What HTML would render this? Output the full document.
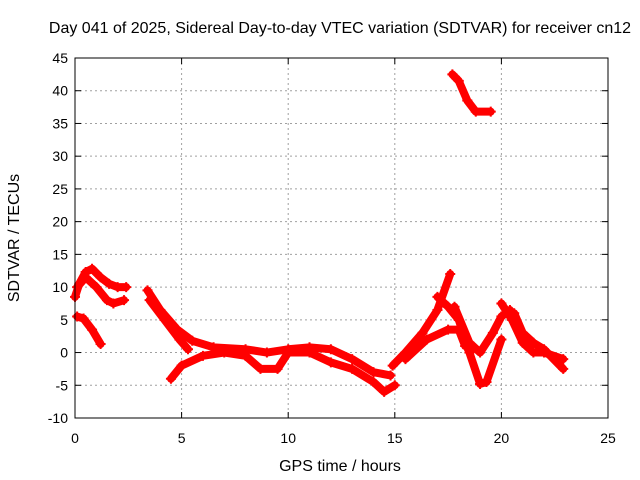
<!DOCTYPE html>
<html><head><meta charset="utf-8"><style>
body{margin:0;background:#fff;}
svg{display:block;font-family:"Liberation Sans",sans-serif;font-size:14px;}
</style></head><body>
<svg id="chart" width="640" height="480" viewBox="0 0 640 480">
<rect width="640" height="480" fill="#fff"/>
<text x="340" y="33" text-anchor="middle" font-size="16">Day 041 of 2025, Sidereal Day-to-day VTEC variation (SDTVAR) for receiver cn12</text>
<text x="340" y="471" text-anchor="middle" font-size="16">GPS time / hours</text>
<text transform="translate(19,238) rotate(-90)" text-anchor="middle" font-size="16">SDTVAR / TECUs</text>
<g id="grid"></g>
<g id="ticks"></g>
<g id="marks"></g>
<rect x="75" y="58" width="533" height="360" fill="none" stroke="#000" stroke-width="1"/>
</svg>
<script>
const xTicks=[0,5,10,15,20,25];
const yTicks=[-10,-5,0,5,10,15,20,25,30,35,40,45];
const trackA=[[0,8.5],[0.2,10.5],[0.5,12.3],[0.8,12.8],[1.2,11.5],[1.6,10.5],[2,10],[2.4,10]];
const trackA2=[[0.1,10],[0.5,11.5],[1,10],[1.5,8],[1.8,7.5],[2.3,8]];
const trackB=[[0.1,5.5],[0.4,5.2],[0.8,3.5],[1.2,1.3]];
const trackC=[[3.4,9.5],[4,6.5],[4.8,3.5],[5.5,1.8],[6.5,0.8],[8,0.5],[9,0],[10,0.5],[11,0.8],[12,0.5],[13,-1],[14,-3],[14.8,-3.5]];
const trackC2=[[3.5,8],[4.2,5],[4.9,2],[5.3,0.5]];
const trackD=[[4.5,-4],[5,-2],[6,-0.5],[7,0],[8,-0.5],[8.7,-2.5],[9.5,-2.5],[10,0],[11,0],[12,-1.5],[13,-2.5],[14,-4.5],[14.5,-6],[15,-5]];
const trackE=[[14.9,-2],[15.5,0],[16.3,3],[17,6.5],[17.6,12]];
const trackE2=[[15.5,-1],[16.5,2],[17.5,3.5],[18,3.5],[18.3,1]];
const trackF=[[17,8.5],[17.5,7],[18,5],[18.5,0],[19,-4.8],[19.3,-4.5],[20,2]];
const trackF2=[[17.8,7],[18.5,1.5],[19,0],[19.6,3],[20,5.5],[20.4,6.5]];
const trackG=[[20,7.5],[20.5,5],[21,1.5],[21.5,0],[22,0],[22.9,-1]];
const trackG2=[[20.6,6],[21,3],[21.5,1.5],[22,0.5],[22.9,-2.5]];
const trackH=[[17.7,42.5],[18,41.5],[18.4,38.5],[18.8,36.8],[19.5,36.8]];
const tracks=[trackA,trackA2,trackB,trackC,trackC2,trackD,trackE,trackE2,trackF,trackF2,trackG,trackG2,trackH];
const NS="http://www.w3.org/2000/svg";
const X0=75,X1=608,Y0=418,Y1=58;
function sx(v){return X0+(v-0)/(25-0)*(X1-X0);}
function sy(v){return Y0-(v+10)/(45+10)*(Y0-Y1);}
function mk(t,a,p){const e=document.createElementNS(NS,t);for(const k in a)e.setAttribute(k,a[k]);p.appendChild(e);return e;}
const grid=document.getElementById('grid'),ticks=document.getElementById('ticks'),marks=document.getElementById('marks');
xTicks.forEach(v=>{const x=sx(v);
 if(v>0&&v<25){const g=mk('line',{x1:x,y1:Y1,x2:x,y2:Y0,stroke:'#a0a0a0','stroke-dasharray':'2,3'},grid);
 
 }
 mk('line',{x1:x,y1:Y0,x2:x,y2:Y0-6,stroke:'#000'},ticks);
 mk('line',{x1:x,y1:Y1,x2:x,y2:Y1+6,stroke:'#000'},ticks);
 const t=mk('text',{x:x,y:Y0+25,'text-anchor':'middle'},ticks);t.textContent=v;
 
 });
yTicks.forEach(v=>{const y=sy(v);
 if(v>-10&&v<45){const g=mk('line',{x1:X0,y1:y,x2:X1,y2:y,stroke:'#a0a0a0','stroke-dasharray':'2,3'},grid);
 
 }
 mk('line',{x1:X0,y1:y,x2:X0+6,y2:y,stroke:'#000'},ticks);
 mk('line',{x1:X1,y1:y,x2:X1-6,y2:y,stroke:'#000'},ticks);
 const t=mk('text',{x:X0-7,y:y+5,'text-anchor':'end'},ticks);t.textContent=v;
 
 });
tracks.forEach(tr=>{
 const pl=mk('polyline',{points:tr.map(p=>sx(p[0])+','+sy(p[1])).join(' '),fill:'none',stroke:'#f00','stroke-width':8,'stroke-linejoin':'round','stroke-linecap':'round'},marks);
 
 
 tr.forEach(p=>{const x=sx(p[0]),y=sy(p[1]);
  const m=mk('path',{d:`M${x-5},${y}H${x+5}M${x},${y-5}V${y+5}`,stroke:'#f00','stroke-width':2},marks);
  
  });
});
</script>
</body></html>
